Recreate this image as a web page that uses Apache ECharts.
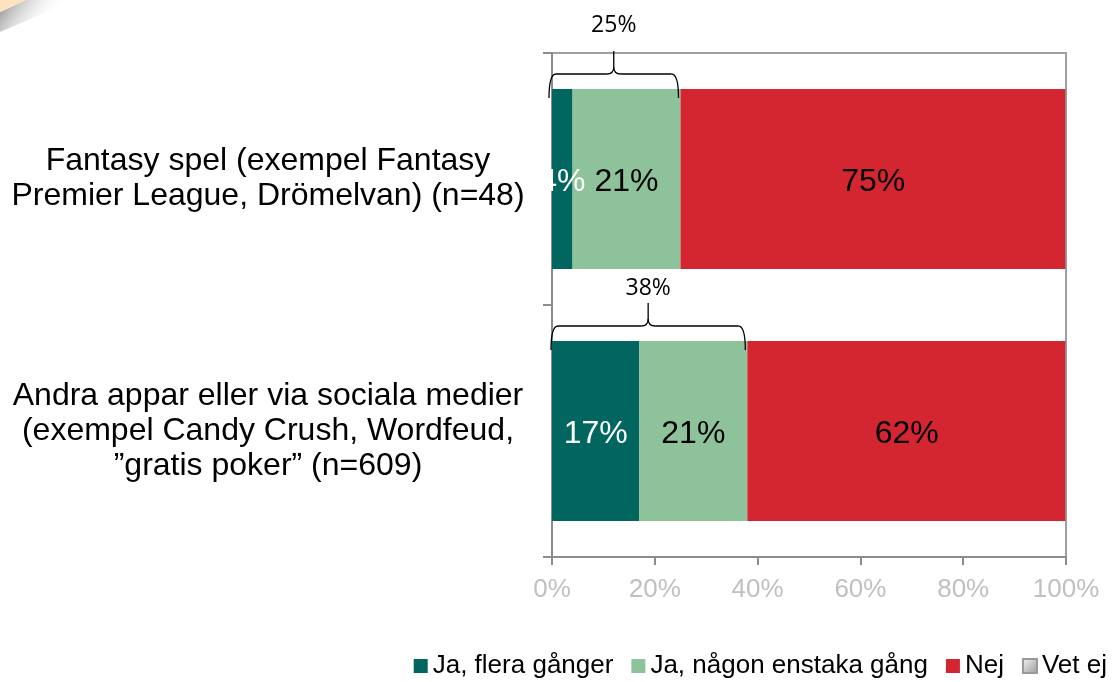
<!DOCTYPE html>
<html>
<head>
<meta charset="utf-8">
<script src="https://cdn.jsdelivr.net/npm/echarts@6/dist/echarts.min.js"></script>
<style>
html,body{margin:0;padding:0;background:#fff;}
#main{width:1114px;height:682px;}
</style>
</head>
<body>
<div id="main"></div>
<script>
const categories = [
  'Fantasy spel (exempel Fantasy\nPremier League, Drömelvan) (n=48)',
  'Andra appar eller via sociala medier\n(exempel Candy Crush, Wordfeud,\n”gratis poker” (n=609)'
];
const seriesNames = ['Ja, flera gånger', 'Ja, någon enstaka gång', 'Nej', 'Vet ej'];
const jaFlera = [4, 17];
const jaNagon = [21, 21];
const nej = [75, 62];
const vetEj = [0, 0];
const bracketTotals = [25, 38];
const xTicks = [0, 20, 40, 60, 80, 100];

const FONT = "'Liberation Sans', Arial, sans-serif";
const chart = echarts.init(document.getElementById('main'), null, {renderer: 'canvas'});

function barSeries(name, data, color, labelColor) {
  return {
    name: name,
    type: 'bar',
    stack: 'total',
    data: data,
    barWidth: 180,
    itemStyle: {color: color},
    label: {
      show: true,
      position: 'inside',
      offset: [0, 3],
      color: labelColor,
      fontSize: 32,
      fontFamily: FONT,
      formatter: p => p.value > 0 ? p.value + '%' : ''
    },
    emphasis: {disabled: true}
  };
}

const braceSeries = {
  type: 'custom',
  name: 'brace',
  silent: true,
  clip: false,
  data: bracketTotals.map((t, i) => [t, i]),
  encode: {x: 0, y: 1},
  z: 10,
  renderItem: function (params, api) {
    const total = api.value(0);
    const ci = api.value(1);
    const p0 = api.coord([0, ci]);
    const p1 = api.coord([total, ci]);
    const barTop = p0[1] - 90;
    const x0 = p0[0] - 3 + ci * 2;
    const x1 = p1[0] - 2;
    const xc = (x0 + x1) / 2;
    const yEnd = barTop + 9;
    const yMid = barTop - 15;
    const yPeak = barTop - 38;
    const labelY = ci === 0 ? barTop - 64 : barTop - 53;
    const st = {stroke: '#000', lineWidth: 1.3, fill: null};
    const r = 7;
    return {
      type: 'group',
      children: [
        {type: 'bezierCurve', shape: {x1: x0, y1: yEnd, cpx1: x0, cpy1: yMid, x2: x0 + r, y2: yMid}, style: st},
        {type: 'line', shape: {x1: x0 + r, y1: yMid, x2: xc - r, y2: yMid}, style: st},
        {type: 'bezierCurve', shape: {x1: xc - r, y1: yMid, cpx1: xc, cpy1: yMid, x2: xc, y2: yMid - r}, style: st},
        {type: 'line', shape: {x1: xc, y1: yMid - r, x2: xc, y2: yPeak}, style: st},
        {type: 'bezierCurve', shape: {x1: xc + r, y1: yMid, cpx1: xc, cpy1: yMid, x2: xc, y2: yMid - r}, style: st},
        {type: 'line', shape: {x1: xc + r, y1: yMid, x2: x1 - r, y2: yMid}, style: st},
        {type: 'bezierCurve', shape: {x1: x1, y1: yEnd, cpx1: x1, cpy1: yMid, x2: x1 - r, y2: yMid}, style: st},
        {type: 'text', x: xc, y: labelY, style: {text: total + '%', fill: '#000', font: "23px 'Open Sans', sans-serif", align: 'center', verticalAlign: 'middle'}}
      ]
    };
  }
};

const option = {
  backgroundColor: '#fff',
  animation: false,
  graphic: [
    {type: 'polygon', shape: {points: [[26, 0], [75, 0], [0, 32], [0, 12]]},
     style: {fill: new echarts.graphic.LinearGradient(0, 0, 0.6, 1, [{offset: 0, color: '#888'}, {offset: 1, color: 'rgba(255,255,255,0)'}])}},
    {type: 'polygon', shape: {points: [[0, 0], [27, 0], [0, 12]]}, style: {fill: '#FCE2C0'}}
  ],
  grid: {left: 552, right: 48, top: 53, bottom: 125, show: true, borderColor: '#a0a0a0', borderWidth: 2, containLabel: false},
  legend: {
    data: seriesNames,
    right: 2,
    bottom: -2,
    itemWidth: 14,
    itemHeight: 14,
    itemGap: 18,
    textStyle: {fontSize: 26, fontFamily: FONT, color: '#000'},
    icon: 'rect'
  },
  xAxis: {
    type: 'value',
    min: 0, max: 100, interval: 20,
    axisLine: {show: true, lineStyle: {color: '#8c8c8c', width: 2}},
    axisTick: {show: true, length: 8, lineStyle: {color: '#8c8c8c', width: 2}},
    splitLine: {show: false},
    axisLabel: {color: '#c0c0c0', fontSize: 26, fontFamily: FONT, margin: 20,
      formatter: v => xTicks.includes(v) ? v + '%' : ''}
  },
  yAxis: {
    type: 'category',
    inverse: true,
    data: categories,
    axisLine: {show: true, lineStyle: {color: '#8c8c8c', width: 2}},
    axisTick: {show: true, length: 9, lineStyle: {color: '#8c8c8c', width: 2}},
    axisLabel: {color: '#000', fontSize: 32, fontFamily: FONT, align: 'center', margin: 284, lineHeight: 35, padding: [6, 0, 0, 0]}
  },
  series: [
    barSeries(seriesNames[0], jaFlera, '#00665F', '#ffffff'),
    barSeries(seriesNames[1], jaNagon, '#8DC29B', '#000000'),
    barSeries(seriesNames[2], nej, '#D42631', '#000000'),
    Object.assign(barSeries(seriesNames[3], vetEj, '#ccc', '#000'),
      {itemStyle: {color: new echarts.graphic.LinearGradient(0, 0, 1, 1, [{offset: 0, color: '#f4f4f4'}, {offset: 1, color: '#9a9a9a'}]), borderColor: '#999', borderWidth: 1}}),
    braceSeries
  ]
};
chart.setOption(option);
</script>
</body>
</html>
